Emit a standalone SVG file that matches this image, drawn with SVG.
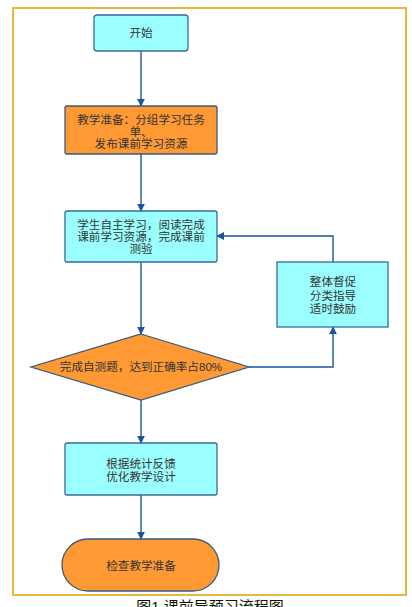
<svg xmlns="http://www.w3.org/2000/svg" width="412" height="607" viewBox="0 0 412 607">
<defs>
<marker id="arr" viewBox="0 0 10 10" refX="9" refY="5" markerWidth="8" markerHeight="8" markerUnits="userSpaceOnUse" orient="auto">
<path d="M0,0 L10,5 L0,10 z" fill="#1A56A0"/>
</marker>
<style>
.t{font-family:"Liberation Sans","Noto Sans CJK SC",sans-serif;font-size:11.6px;fill:#333;text-anchor:middle}
.cy{fill:#9CFFFF;stroke:#3A6A9A;stroke-width:1.3}
.or{fill:#FF9933;stroke:#3A5A7A;stroke-width:1.3}
.c{fill:none;stroke:#1A56A0;stroke-width:1.4;marker-end:url(#arr)}
</style>
</defs>
<rect width="412" height="607" fill="#fff"/>
<rect x="13" y="8" width="393" height="587" fill="none" stroke="#EDB540" stroke-width="2"/>
<g id="connectors">
<path class="c" d="M141,51 V106"/>
<path class="c" d="M141,154 V211"/>
<path class="c" d="M141,262 V334"/>
<path class="c" d="M249,367 H333 V327"/>
<path class="c" d="M333,262 V236 H217"/>
<path class="c" d="M141,400 V443"/>
<path class="c" d="M141,495 V539"/>
</g>
<g id="start">
<rect class="cy" x="94" y="15" width="94" height="36" rx="3"/>
<text class="t" x="141" y="37">开始</text>
</g>
<g id="prep">
<rect class="or" x="65" y="106" width="152" height="48" rx="2"/>
<text class="t" x="141" y="124">教学准备：分组学习任务</text>
<text class="t" x="141" y="136">单、</text>
<text class="t" x="141" y="148">发布课前学习资源</text>
</g>
<g id="study">
<rect class="cy" x="65" y="211" width="152" height="51" rx="2"/>
<text class="t" x="141" y="229">学生自主学习，阅读完成</text>
<text class="t" x="141" y="241">课前学习资源，完成课前</text>
<text class="t" x="141" y="253">测验</text>
</g>
<g id="decision">
<polygon class="or" points="141,334 249,367 141,400 31,367"/>
<text class="t" x="141" y="371">完成自测题，达到正确率占80%</text>
</g>
<g id="guide">
<rect class="cy" x="277" y="262" width="111" height="65"/>
<text class="t" x="333" y="286">整体督促</text>
<text class="t" x="333" y="300">分类指导</text>
<text class="t" x="333" y="313">适时鼓励</text>
</g>
<g id="optimize">
<rect class="cy" x="65" y="443" width="152" height="52" rx="2"/>
<text class="t" x="141" y="468">根据统计反馈</text>
<text class="t" x="141" y="481">优化教学设计</text>
</g>
<g id="check">
<rect class="or" x="62" y="539" width="157" height="52" rx="26"/>
<text class="t" x="141" y="570">检查教学准备</text>
</g>
<text x="210" y="612" style="font-family:'Liberation Sans','Noto Sans CJK SC',sans-serif;font-size:15px;fill:#111;text-anchor:middle">图1 课前导预习流程图</text>
</svg>
